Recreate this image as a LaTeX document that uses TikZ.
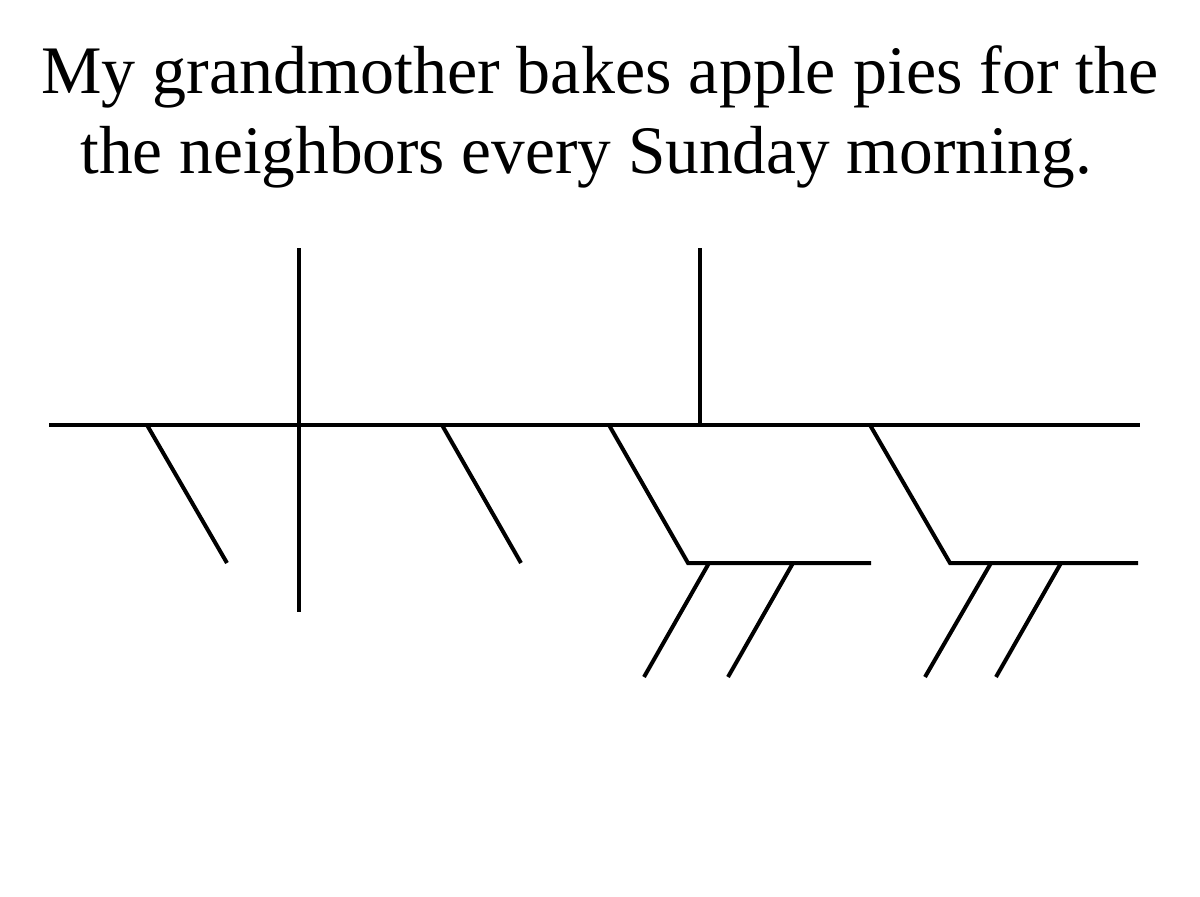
\documentclass[tikz,border=0pt]{standalone}
\usepackage{fontspec}
\setmainfont{Liberation Serif}
\begin{document}
\begin{tikzpicture}[x=0.5pt,y=-0.5pt,
  rule/.style={line width=2pt,line cap=butt,line join=miter},
  title/.style={inner sep=0pt,font=\fontsize{34pt}{40pt}\selectfont}]
\useasboundingbox[fill=white] (0,0) rectangle (1200,896);
% title
\node[title,anchor=base] (t1) at (600,93) {My grandmother bakes apple pies for the};
\node[title,anchor=base west,xscale=0.99] (t2) at (80,173) {the neighbors every Sunday morning.};
% main line
\coordinate (mL) at (49,425);
\coordinate (mR) at (1140,425);
\draw[rule] (mL) -- (mR);
% subject / predicate divider
\coordinate (v1t) at (299,248);
\coordinate (v1b) at (299,612);
\draw[rule] (v1t) -- (v1b);
% verb / object divider
\coordinate (v2t) at (700,248);
\coordinate (v2b) at (700,425);
\draw[rule] (v2t) -- (v2b);
% modifiers
\coordinate (d1a) at (147,425); \coordinate (d1b) at (227,563);
\draw[rule] (d1a) -- (d1b);
\coordinate (d2a) at (442,425); \coordinate (d2b) at (521,563);
\draw[rule] (d2a) -- (d2b);
% prepositional phrase 1
\coordinate (p1a) at (609,425); \coordinate (p1b) at (688,563); \coordinate (p1c) at (871,563);
\draw[rule] (p1a) -- (p1b) -- (p1c);
\coordinate (p1m1a) at (709,563); \coordinate (p1m1b) at (644,677);
\draw[rule] (p1m1a) -- (p1m1b);
\coordinate (p1m2a) at (793,563); \coordinate (p1m2b) at (728,677);
\draw[rule] (p1m2a) -- (p1m2b);
% adverbial phrase 2
\coordinate (p2a) at (870,425); \coordinate (p2b) at (950,563); \coordinate (p2c) at (1138,563);
\draw[rule] (p2a) -- (p2b) -- (p2c);
\coordinate (p2m1a) at (991,563); \coordinate (p2m1b) at (925,677);
\draw[rule] (p2m1a) -- (p2m1b);
\coordinate (p2m2a) at (1061,563); \coordinate (p2m2b) at (996,677);
\draw[rule] (p2m2a) -- (p2m2b);
\end{tikzpicture}
\end{document}
